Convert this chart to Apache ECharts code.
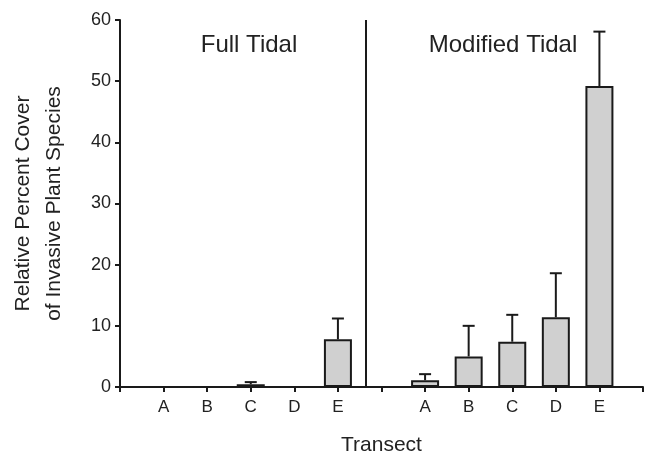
<!DOCTYPE html>
<html>
<head>
<meta charset="utf-8">
<title>Invasive cover by transect</title>
<script src="https://cdn.jsdelivr.net/npm/echarts@6/dist/echarts.min.js"></script>
</head>
<body style="margin:0;background:#fff">
<div id="main" style="width:646px;height:461px;"></div>
<script type="text/javascript">
// transect slots on the x axis (6 is the gap between the two marsh types)
var slots = [1, 2, 3, 4, 5, 7, 8, 9, 10, 11];
var transects = ['A', 'B', 'C', 'D', 'E', 'A', 'B', 'C', 'D', 'E'];
// mean relative percent cover and top of the error bar
var meanCover = [0, 0, 0.45, 0, 7.8, 1.1, 5.0, 7.4, 11.4, 49.2];
var errorTop = [0, 0, 0.8, 0, 11.2, 2.1, 10.0, 11.8, 18.6, 58.1];
var groupNames = ['Full Tidal', 'Modified Tidal'];
var yTicks = [0, 10, 20, 30, 40, 50, 60];

var ink = '#1a1a1a';
var font = '"Liberation Sans", Arial, sans-serif';

var barData = [];
var errData = [];
for (var i = 0; i < slots.length; i++) {
    barData.push([slots[i], meanCover[i]]);
    if (errorTop[i] > meanCover[i]) errData.push([slots[i], meanCover[i], errorTop[i]]);
}

var myChart = echarts.init(document.getElementById('main'));

var option = {
    animation: false,
    backgroundColor: '#fff',
    textStyle: { fontFamily: font },
    title: [
        { text: groupNames[0], left: 244, top: 28, textAlign: 'center',
          textStyle: { fontFamily: font, fontSize: 24, fontWeight: 'normal', color: '#222' } },
        { text: groupNames[1], left: 498, top: 28, textAlign: 'center',
          textStyle: { fontFamily: font, fontSize: 24, fontWeight: 'normal', color: '#222' } }
    ],
    grid: { left: 110, right: 1, top: 20, bottom: 66, containLabel: false },
    xAxis: {
        type: 'value',
        min: 0, max: 12, interval: 1,
        name: 'Transect',
        nameLocation: 'middle',
        nameGap: 48,
        nameTextStyle: { fontFamily: font, fontSize: 21, color: '#222' },
        splitLine: { show: false },
        axisLine: { onZero: false, lineStyle: { color: ink, width: 2 } },
        axisTick: { length: 5, lineStyle: { color: ink, width: 2 } },
        axisLabel: {
            fontFamily: font, fontSize: 17, color: '#222', margin: 12,
            showMinLabel: true, showMaxLabel: true,
            formatter: function (v) {
                var k = slots.indexOf(v);
                return k < 0 ? '' : transects[k];
            }
        }
    },
    yAxis: {
        type: 'value',
        min: yTicks[0], max: yTicks[yTicks.length - 1], interval: 10,
        name: 'Relative Percent Cover\nof Invasive Plant Species',
        nameLocation: 'middle',
        nameGap: 50,
        nameTextStyle: { fontFamily: font, fontSize: 21, color: '#222', lineHeight: 31 },
        splitLine: { show: false },
        axisLine: { show: true, lineStyle: { color: ink, width: 2 } },
        axisTick: { show: true, length: 5, lineStyle: { color: ink, width: 2 } },
        axisLabel: { fontFamily: font, fontSize: 18, color: '#222', margin: 9 }
    },
    series: [
        {
            type: 'bar',
            data: barData,
            barWidth: 28,
            itemStyle: { color: '#d0d0d0', borderColor: ink, borderWidth: 2 },
            markLine: {
                symbol: 'none',
                silent: true,
                label: { show: false },
                lineStyle: { color: ink, width: 2, type: 'solid' },
                data: [{ xAxis: 5.65 }]
            }
        },
        {
            type: 'custom',
            data: errData,
            z: 1,
            renderItem: function (params, api) {
                var base = api.coord([api.value(0), api.value(1)]);
                var top = api.coord([api.value(0), api.value(2)]);
                var half = 6;
                return {
                    type: 'group',
                    children: [
                        { type: 'line', shape: { x1: base[0], y1: base[1], x2: top[0], y2: top[1] },
                          style: { stroke: ink, lineWidth: 2 } },
                        { type: 'line', shape: { x1: top[0] - half, y1: top[1], x2: top[0] + half, y2: top[1] },
                          style: { stroke: ink, lineWidth: 2 } }
                    ]
                };
            }
        }
    ]
};

myChart.setOption(option);
</script>
</body>
</html>
